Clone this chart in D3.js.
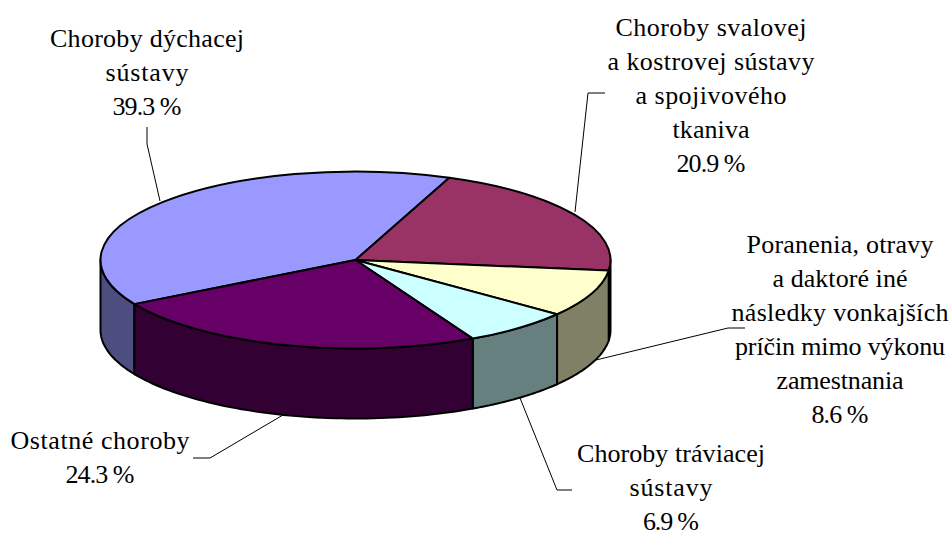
<!DOCTYPE html>
<html>
<head>
<meta charset="utf-8">
<script src="https://cdnjs.cloudflare.com/ajax/libs/d3/7.8.5/d3.min.js"></script>
<style>
	body { margin: 0; background: #fff; }
	text { font-family: "Liberation Serif", serif; font-size: 26px; fill: #000; text-anchor: middle; }
</style>
</head>
<body>
<div id="chart"></div>
<script>
// chart values, clockwise from the blue slice
var categories = [
	["Choroby dýchacej", "sústavy"],
	["Choroby svalovej", "a kostrovej sústavy", "a spojivového", "tkaniva"],
	["Poranenia, otravy", "a daktoré iné", "následky vonkajších", "príčin mimo výkonu", "zamestnania"],
	["Choroby tráviacej", "sústavy"],
	["Ostatné choroby"]
];
var values = [39.3, 20.9, 8.6, 6.9, 24.3];
var topColors = ["#9999ff", "#993366", "#ffffcc", "#ccffff", "#660066"];
var sideColors = ["#4d4d80", "#4d1a33", "#808066", "#668080", "#330033"];

// label placement, separate from the data
var labelX = [147, 711, 840, 671, 100];
var labelY = [47, 36, 253, 462, 449];
var lineHeight = 34;
// width of each label line as it was set in the original, last one is the percent
var lineWidths = [
	[194, 83, 69],
	[191, 207, 151, 77, 69],
	[187, 135, 217, 210, 127, 57],
	[188, 83, 56],
	[179, 69]
];
var leaders = [
	[[147, 127], [147, 144], [160, 201]],
	[[605, 93], [588, 93], [575, 212]],
	[[745, 328], [728, 328], [596, 360]],
	[[572, 490], [557, 490], [520, 398]],
	[[193, 458], [210, 458], [283, 415]]
];

var width = 952, height = 536;
var cx = 355.5, cy = 260, rx = 255, ry = 88.5, depth = 70;

var svg = d3.select("#chart").append("svg")
	.attr("width", width)
	.attr("height", height)
	.style("display", "block");

var start = 240.1 * Math.PI / 180;
var pie = d3.pie().sort(null).startAngle(start).endAngle(start + 2 * Math.PI);
var slices = pie(values);

// angle goes clockwise from the top of the ellipse
function px(a) { return cx + rx * Math.sin(a); }
function py(a) { return cy - ry * Math.cos(a); }

// Side walls, only the front half of the rim is visible
var rimLine = d3.line().x(function (d) { return d[0]; }).y(function (d) { return d[1]; });

function wallPath(a0, a1) {
	var angles = d3.range(0, 61).map(function (i) { return a0 + (a1 - a0) * i / 60; });
	var upper = angles.map(function (a) { return [px(a), py(a)]; });
	var lower = angles.slice().reverse().map(function (a) { return [px(a), py(a) + depth]; });
	return rimLine(upper.concat(lower)) + "Z";
}

slices.forEach(function (d, i) {
	[0, -2 * Math.PI].forEach(function (shift) {
		var a0 = Math.max(d.startAngle + shift, Math.PI / 2);
		var a1 = Math.min(d.endAngle + shift, 3 * Math.PI / 2);
		if (a1 <= a0) return;
		svg.append("path")
			.attr("d", wallPath(a0, a1))
			.attr("fill", sideColors[i])
			.attr("stroke", "#000")
			.attr("stroke-width", 2)
			.attr("stroke-linejoin", "round");
	});
});

// Top face, a flattened d3 pie
var arc = d3.arc().innerRadius(0).outerRadius(rx);

svg.append("g")
	.attr("transform", "translate(" + cx + "," + cy + ") scale(1," + (ry / rx) + ")")
	.selectAll("path")
	.data(slices)
	.enter().append("path")
	.attr("d", arc)
	.attr("fill", function (d, i) { return topColors[i]; })
	.attr("stroke", "#000")
	.attr("stroke-width", 2)
	.attr("vector-effect", "non-scaling-stroke")
	.attr("stroke-linejoin", "round");

// Leader lines
svg.selectAll(".leader")
	.data(leaders)
	.enter().append("path")
	.attr("class", "leader")
	.attr("d", rimLine)
	.attr("fill", "none")
	.attr("stroke", "#000")
	.attr("stroke-width", 1);

// Labels
categories.forEach(function (lines, i) {
	lines.concat([d3.format(".1f")(values[i]) + " %"]).forEach(function (line, j) {
		svg.append("text")
			.attr("x", labelX[i])
			.attr("y", labelY[i] + j * lineHeight)
			.attr("textLength", lineWidths[i][j])
			.attr("lengthAdjust", "spacing")
			.text(line);
	});
});
</script>
</body>
</html>
